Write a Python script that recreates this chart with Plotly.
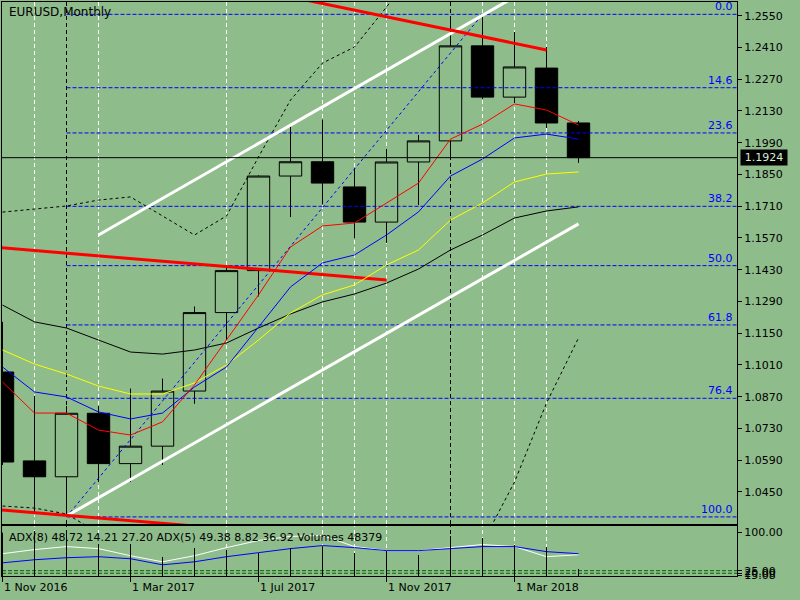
import plotly.graph_objects as go

BG = "#8FBC8B"
FONT = "DejaVu Sans"

# ---------------- data ----------------
months = ["Nov 2016", "Dec 2016", "Jan 2017", "Feb 2017", "Mar 2017", "Apr 2017", "May 2017",
          "Jun 2017", "Jul 2017", "Aug 2017", "Sep 2017", "Oct 2017", "Nov 2017", "Dec 2017",
          "Jan 2018", "Feb 2018", "Mar 2018", "Apr 2018", "May 2018"]
opens = [1.0979, 1.0587, 1.0517, 1.0797, 1.0575, 1.0652, 1.0895, 1.1241, 1.1426, 1.1843,
         1.1906, 1.1795, 1.1640, 1.1905, 1.1998, 1.2417, 1.2191, 1.2319, 1.2077]
highs = [1.1200, 1.0874, 1.0829, 1.0829, 1.0906, 1.0950, 1.1268, 1.1445, 1.1846, 1.2070,
         1.2092, 1.1879, 1.1962, 1.2024, 1.2537, 1.2555, 1.2478, 1.2412, 1.2086]
lows = [1.0569, 1.0352, 1.0340, 1.0494, 1.0494, 1.0569, 1.0839, 1.1119, 1.1312, 1.1662,
        1.1718, 1.1569, 1.1548, 1.1715, 1.1915, 1.2183, 1.2165, 1.2055, 1.1901]
closes = [1.0582, 1.0517, 1.0797, 1.0575, 1.0652, 1.0895, 1.1241, 1.1426, 1.1843, 1.1906,
          1.1812, 1.1640, 1.1905, 1.1998, 1.2417, 1.2191, 1.2324, 1.2077, 1.1924]

ma_red = [1.0935, 1.0798, 1.0798, 1.0723, 1.0701, 1.0759, 1.0922, 1.1120, 1.1319, 1.1530,
          1.1623, 1.1636, 1.1724, 1.1812, 1.2006, 1.2072, 1.2161, 1.2134, 1.2068]
ma_blue = [1.1001, 1.0891, 1.0869, 1.0803, 1.0772, 1.0798, 1.0913, 1.1001, 1.1177, 1.1354,
           1.1460, 1.1495, 1.1583, 1.1685, 1.1843, 1.1918, 1.2011, 1.2028, 1.2006]
ma_yellow = [1.1076, 1.1014, 1.0970, 1.0917, 1.0882, 1.0882, 1.0931, 1.1010, 1.1120, 1.1239,
             1.1319, 1.1363, 1.1451, 1.1517, 1.1649, 1.1724, 1.1817, 1.1852, 1.1861]
ma_black = [1.1274, 1.1200, 1.1173, 1.1120, 1.1067, 1.1058, 1.1076, 1.1107, 1.1173, 1.1235,
            1.1288, 1.1323, 1.1371, 1.1433, 1.1517, 1.1583, 1.1658, 1.1689, 1.1707]
band_upper = [1.1684, 1.1698, 1.1711, 1.1737, 1.1751, 1.1667, 1.1583, 1.1667, 1.1927, 1.2178,
              1.2341, 1.2412, 1.2588, 1.2774, None, None, None, None, None]
band_lower = [1.0388, 1.0379, 1.0353, 1.0269, None, None, None, None, None, None,
              None, None, None, None, None, 1.0225, 1.0494, 1.0842, 1.1129]

volumes = [300000, 311000, 318000, 221000, 221000, 131000, 193500, 180000, 159000, 193500,
           207000, 159000, 173000, 145000, 276000, 263000, 214000, 200000, 48379]
adx_white = [58.3, 66.3, 72.2, 68.2, 54.3, 42.4, 54.3, 70.2, 84.1, 92.1,
             94.0, 72.2, 64.3, 64.3, 70.2, 76.2, 72.2, 52.4, 56.3]
adx_blue = [40.4, 46.4, 50.4, 52.4, 48.4, 36.5, 42.4, 52.4, 60.3, 68.2,
            74.2, 70.2, 64.3, 64.3, 68.2, 72.2, 72.2, 62.3, 58.3]
adx_levels = [20, 25]

fib_low, fib_high = 1.0340, 1.2556
fib_low_bar, fib_high_bar = 2, 15
fib_levels = [0.0, 14.6, 23.6, 38.2, 50.0, 61.8, 76.4, 100.0]

price_ticks = [1.2550, 1.2410, 1.2270, 1.2130, 1.1990, 1.1850, 1.1710, 1.1570,
               1.1430, 1.1290, 1.1150, 1.1010, 1.0870, 1.0730, 1.0590, 1.0450]
sub_ticks = [100, 25, 20, 16.5]
sub_tick_text = ["100.00", "25.00", "20.00", "15.08"]
date_labels = ["1 Nov 2016", "1 Mar 2017", "1 Jul 2017", "1 Nov 2017", "1 Mar 2018"]
date_label_bars = [0, 4, 8, 12, 16]

white_vline_bars = [1, 3, 7, 10, 11, 12, 15, 16, 17]
black_vline_bars = [2, 14]

channel_lower = [(2, 1.0344), (18, 1.1632)]
channel_upper = [(3, 1.1583), (18, 1.2794)]
red_top = [(9, 1.2633), (17, 1.2399)]
red_mid = [(-1, 1.1538), (12, 1.1385)]
red_low = [(-1, 1.0382), (6, 1.0300)]

last_price = 1.1924
adx_text = "ADX(8) 48.72 14.21 27.20 ADX(5) 49.38 8.82 36.92 Volumes 48379"
title_text = "EURUSD,Monthly"

# ---------------- figure ----------------
bars = list(range(len(months)))
x_range = [-0.0156, 22.953]
y_main = [1.03088, 1.26104]
y_sub = [14.6, 112.5]
y_vol = [0, 345550]

fig = go.Figure()

fig.add_trace(go.Candlestick(
    x=bars, open=opens, high=highs, low=lows, close=closes,
    increasing=dict(line=dict(color="black", width=1), fillcolor=BG),
    decreasing=dict(line=dict(color="black", width=1), fillcolor="black"),
    whiskerwidth=0, showlegend=False, hoverinfo="skip", xaxis="x", yaxis="y"))


def line(xs, ys, color, width=1, dash="solid", xa="x", ya="y"):
    fig.add_trace(go.Scatter(x=xs, y=ys, mode="lines", connectgaps=False,
                             line=dict(color=color, width=width, dash=dash),
                             showlegend=False, hoverinfo="skip", xaxis=xa, yaxis=ya))


# Bollinger-like dotted bands
line(bars, band_upper, "black", 1, "3px,3px")
line(bars, band_lower, "black", 1, "3px,3px")

# Fibonacci
line([fib_low_bar, fib_high_bar], [fib_low, fib_high], "#0000FF", 1, "3px,3px")
for lv in fib_levels:
    p = fib_high - (fib_high - fib_low) * lv / 100.0
    line([fib_low_bar, x_range[1]], [p, p], "#0000FF", 1, "4px,2px")
    fig.add_annotation(x=0.9975, xref="paper", y=p, yref="y", text=f"{lv:.1f}",
                       showarrow=False, xanchor="right", yanchor="bottom", yshift=-1,
                       font=dict(family=FONT, size=11, color="#0000FF"))

# trend lines
for seg, col in [(channel_lower, "white"), (channel_upper, "white"),
                 (red_top, "#FF0000"), (red_mid, "#FF0000"), (red_low, "#FF0000")]:
    line([seg[0][0], seg[1][0]], [seg[0][1], seg[1][1]], col, 3)

# moving averages
line(bars, ma_black, "black", 1)
line(bars, ma_yellow, "#FFFF00", 1)
line(bars, ma_blue, "#0000FF", 1)
line(bars, ma_red, "#FF0000", 1)

# current price line
line(x_range, [last_price, last_price], "black", 1)

# ---- sub window ----
for lv in adx_levels:
    line(x_range, [lv, lv], "#006400", 1, "4px,2px", "x2", "y2")
vx, vy = [], []
for b, v in zip(bars, volumes):
    vx += [b, b, None]
    vy += [0, v, None]
line(vx, vy, "black", 1, "solid", "x2", "y3")
line(bars, adx_white, "white", 1, "solid", "x2", "y2")
line(bars, adx_blue, "#0000FF", 1, "solid", "x2", "y2")

# vertical object lines (behind candles)
shapes = []
for b in white_vline_bars + black_vline_bars:
    col = "white" if b in white_vline_bars else "black"
    shapes.append(dict(type="line", layer="below", xref="x", yref="y", x0=b, x1=b,
                       y0=y_main[0], y1=y_main[1], line=dict(color=col, width=1, dash="4px,3px")))
    shapes.append(dict(type="line", layer="below", xref="x2", yref="y2", x0=b, x1=b,
                       y0=y_sub[0], y1=y_sub[1], line=dict(color=col, width=1, dash="4px,3px")))

# annotations
fig.add_annotation(x=0.0068, xref="paper", y=0.9826, yref="paper", text=title_text,
                   showarrow=False, xanchor="left", yanchor="middle",
                   font=dict(family=FONT, size=12, color="black"))
fig.add_annotation(x=0.0068, xref="paper", y=0.0679, yref="paper", text=adx_text,
                   showarrow=False, xanchor="left", yanchor="middle",
                   font=dict(family=FONT, size=11, color="black"))
for b, t in zip(date_label_bars, date_labels):
    fig.add_annotation(x=b, xref="x2", y=-0.0209, yref="paper", text=t, showarrow=False,
                       xanchor="left", yanchor="middle", xshift=-1,
                       font=dict(family=FONT, size=11, color="black"))
fig.add_annotation(x=1.0041, xref="paper", y=last_price, yref="y", text=f"{last_price:.4f}",
                   showarrow=False, xanchor="left", yanchor="middle", bgcolor="black",
                   width=44, height=13, align="center",
                   font=dict(family=FONT, size=11, color="#D8ECD4"))

axis_common = dict(showgrid=False, zeroline=False, showline=True, mirror=True,
                   linecolor="black", linewidth=1)
tickfont = dict(family=FONT, size=11, color="black")

fig.update_layout(
    width=800, height=600, autosize=False,
    margin=dict(l=2, r=63, t=2, b=24),
    paper_bgcolor=BG, plot_bgcolor=BG,
    showlegend=False, shapes=shapes,
    boxgap=0.3, boxgroupgap=0,
    xaxis=dict(range=x_range, domain=[0, 1], anchor="y", showticklabels=False, ticks="",
               rangeslider=dict(visible=False), **axis_common),
    yaxis=dict(range=y_main, domain=[0.0906, 1], anchor="x", side="right",
               tickvals=price_ticks, ticktext=[f"{t:.4f}" for t in price_ticks],
               ticks="outside", ticklen=4, tickcolor="black", tickfont=tickfont, **axis_common),
    xaxis2=dict(range=x_range, domain=[0, 1], anchor="y2", matches="x",
                tickvals=date_label_bars, ticks="outside", ticklen=5, tickcolor="black",
                showticklabels=False, rangeslider=dict(visible=False), **axis_common),
    yaxis2=dict(range=y_sub, domain=[0, 0.0871], anchor="x2", side="right",
                tickvals=sub_ticks, ticktext=sub_tick_text, ticks="outside", ticklen=4,
                tickcolor="black", tickfont=tickfont, **axis_common),
    yaxis3=dict(range=y_vol, overlaying="y2", anchor="x2", side="right", visible=False),
)

fig.write_html("out.html", config={"displayModeBar": False},
               post_script="document.body.style.margin='0';")
